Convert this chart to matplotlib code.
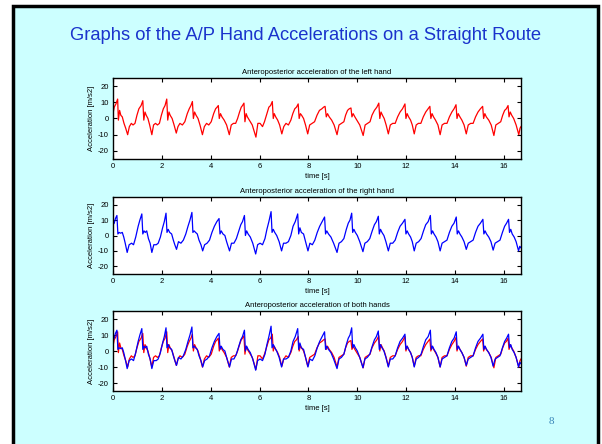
import numpy as np
import matplotlib
matplotlib.use("Agg")
import matplotlib.pyplot as plt
from matplotlib.patches import Rectangle

# left hand (red): time [s], acceleration [m/s2]
left_t = [0, 0.05, 0.12, 0.19, 0.22, 0.27, 0.32, 0.38, 0.45, 0.52, 0.6, 0.67, 0.75, 0.82, 0.9, 0.98,
          1.06, 1.15, 1.22, 1.26, 1.31, 1.36, 1.43, 1.5, 1.59, 1.66, 1.74, 1.82, 1.9, 1.98,
          2.06, 2.13, 2.2, 2.24, 2.29, 2.34, 2.42, 2.5, 2.59, 2.66, 2.74, 2.84, 2.94,
          3.04, 3.12, 3.19, 3.25, 3.29, 3.34, 3.4, 3.48, 3.56, 3.66, 3.74, 3.83, 3.92,
          4.02, 4.12, 4.2, 4.26, 4.31, 4.35, 4.4, 4.46, 4.55, 4.65, 4.76, 4.84, 4.93,
          5.02, 5.1, 5.18, 5.25, 5.3, 5.36, 5.4, 5.45, 5.5, 5.58, 5.7, 5.85, 5.93,
          6.02, 6.12, 6.2, 6.3, 6.38, 6.45, 6.52, 6.56, 6.6, 6.66, 6.74, 6.82, 6.91, 6.99,
          7.08, 7.18, 7.28, 7.36, 7.44, 7.51, 7.58, 7.62, 7.67, 7.72, 7.8, 7.88, 7.97,
          8.05, 8.15, 8.25, 8.35, 8.45, 8.55, 8.62, 8.68, 8.73, 8.78, 8.85, 8.95,
          9.05, 9.17, 9.25, 9.35, 9.45, 9.52, 9.6, 9.67, 9.74, 9.78, 9.83, 9.9, 9.98,
          10.1, 10.24, 10.32, 10.42, 10.52, 10.6, 10.7, 10.8, 10.88, 10.92, 10.97,
          11.03, 11.1, 11.18, 11.27, 11.35, 11.45, 11.55, 11.65, 11.75, 11.85, 11.95, 11.99,
          12.04, 12.1, 12.18, 12.25, 12.33, 12.41, 12.5, 12.6, 12.7, 12.8, 12.9, 12.97,
          13.01, 13.06, 13.12, 13.2, 13.3, 13.39, 13.47, 13.57, 13.67, 13.77, 13.87, 13.96,
          14.04, 14.08, 14.13, 14.2, 14.28, 14.37, 14.46, 14.54, 14.64, 14.74, 14.84, 14.94,
          15.04, 15.13, 15.17, 15.22, 15.28, 15.38, 15.48, 15.59, 15.67, 15.77, 15.87, 15.95,
          16.03, 16.1, 16.17, 16.21, 16.26, 16.32, 16.4, 16.5, 16.61, 16.66, 16.7]
left_a = [3, 7, 9, 12, -1, 5, 2, 1, -3, -6, -10, -5, -3, -4, -3, 2,
          6, 8, 11, -1, 4, 2, 0, -4, -10, -4, -3, -4, -3, 2,
          6, 8, 12, -1, 4, 2, 0, -4, -9, -5, -3, -4, -2,
          3, 6, 8, 10.5, 0, 4, 2, 0, -4, -10, -5, -3, -4,
          -2, 3, 6, 7, 8, 0, 3, 1, -1, -4, -10, -4, -3,
          -3, 0, 4, 7, 8, 9.5, -2, 3, 1, -1, -4, -11.5, -3,
          -3, -5, -2, 3, 7, 8, 10.5, 0, 3, 1, -1, -4, -9.5, -5,
          -3, -4, -1, 3, 6, 7, 9, 0, 3, 2, 0, -4, -9.5,
          -4, -3, -2, 2, 5, 6, 7, 7.5, 1, 3, 1, -1,
          -4, -10, -4, -3, -2, 2, 5, 6, 6.5, 1, 3, 1, -1,
          -4, -10.5, -4, -3, -2, 2, 5, 7, 9.5, 0, 4,
          2, 0, -4, -9.5, -4, -3, -3, 1, 4, 6, 9, 0,
          3, 1, -1, -4, -9.5, -4, -3, -3, 1, 4, 6, 7.5,
          0, 3, 1, -1, -4, -10, -4, -3, -3, 1, 4, 6,
          8.5, 0, 3, 1, -1, -4, -9.5, -4, -3, -3, 1, 4,
          6, 7.5, 0, 3, 1, -1, -4, -10.5, -4, -3, -2, 2,
          5, 6, 8, 1, 4, 2, 0, -4, -10, -6, -5]

# right hand (blue)
right_t = [0, 0.05, 0.1, 0.16, 0.2, 0.25, 0.31, 0.38, 0.44, 0.5, 0.58, 0.66, 0.76, 0.84, 0.93,
           1.03, 1.1, 1.18, 1.22, 1.27, 1.32, 1.38, 1.45, 1.52, 1.59, 1.67, 1.77, 1.85, 1.94,
           2.03, 2.1, 2.17, 2.21, 2.26, 2.32, 2.4, 2.47, 2.53, 2.6, 2.68, 2.78, 2.88, 2.98,
           3.07, 3.15, 3.23, 3.27, 3.32, 3.38, 3.45, 3.52, 3.6, 3.67, 3.75, 3.85, 3.95,
           4.05, 4.15, 4.25, 4.34, 4.38, 4.43, 4.5, 4.58, 4.65, 4.77, 4.85, 4.95,
           5.05, 5.15, 5.23, 5.3, 5.38, 5.42, 5.47, 5.53, 5.62, 5.72, 5.84, 5.92,
           6.02, 6.12, 6.22, 6.3, 6.38, 6.47, 6.51, 6.56, 6.62, 6.7, 6.8, 6.9, 6.98,
           7.08, 7.18, 7.28, 7.37, 7.46, 7.56, 7.6, 7.65, 7.71, 7.8, 7.88, 7.98,
           8.06, 8.16, 8.26, 8.36, 8.46, 8.56, 8.66, 8.7, 8.75, 8.82, 8.92,
           9.03, 9.17, 9.25, 9.35, 9.45, 9.55, 9.63, 9.7, 9.77, 9.81, 9.86, 9.92,
           10.0, 10.1, 10.23, 10.31, 10.41, 10.51, 10.61, 10.7, 10.78, 10.86, 10.9, 10.95,
           11.01, 11.09, 11.17, 11.27, 11.35, 11.45, 11.55, 11.65, 11.75, 11.85, 11.95, 11.99,
           12.04, 12.1, 12.18, 12.25, 12.33, 12.41, 12.51, 12.61, 12.71, 12.8, 12.9, 12.99,
           13.03, 13.08, 13.14, 13.22, 13.3, 13.39, 13.47, 13.57, 13.67, 13.77, 13.87, 13.96,
           14.05, 14.09, 14.14, 14.2, 14.28, 14.37, 14.46, 14.54, 14.64, 14.74, 14.84, 14.94,
           15.04, 15.14, 15.18, 15.23, 15.29, 15.38, 15.47, 15.56, 15.64, 15.74, 15.84, 15.94,
           16.03, 16.11, 16.19, 16.23, 16.28, 16.34, 16.42, 16.5, 16.6, 16.65, 16.7]
right_a = [7, 8, 11, 13, 1, 2, 1.5, 2, -1, -5, -11, -6, -5, -6, -1,
           6, 10, 14, 1, 3, 2, 3, -2, -5, -11, -6, -6, -5, -1,
           5, 9, 14.5, 2, 4, 2, 1, -3, -6, -9, -4, -5, -3, 1,
           6, 10, 15, 2, 3, 2, 1, -3, -6, -10, -6, -5, -3,
           2, 6, 9, 11, 1, 3, 1, 0, -4, -10, -5, -5,
           -2, 3, 7, 9, 13, 0, 3, 1, -1, -5, -12, -6,
           -5, -6, -2, 4, 9, 15.5, 2, 4, 2, 0, -4, -10, -5,
           -5, -4, 0, 6, 9, 14, 1, 5, 2, 1, -4, -10,
           -5, -6, -3, 2, 6, 9, 12, 1, 3, 1, -1,
           -5, -11, -5, -4, -2, 4, 8, 10, 14.5, 2, 4, 2,
           0, -4, -10.5, -5, -4, -2, 3, 7, 9, 12.5, 1, 4,
           2, 0, -4, -10, -5, -5, -3, 2, 6, 8, 10.5, 1,
           3, 1, -1, -4, -10, -5, -4, -2, 3, 7, 9, 13,
           1, 3, 1, -1, -4, -10, -5, -4, -3, 2, 6, 8,
           12, 1, 3, 1, -1, -4, -9, -5, -4, -3, 2, 6,
           8, 10.5, 1, 3, 1, -1, -4, -9.5, -5, -4, -3, 2,
           6, 8, 10.5, 2, 4, 1, -1, -4, -10, -7, -8]

panel_titles = ["Anteroposterior acceleration of the left hand",
                "Anteroposterior acceleration of the right hand",
                "Anteroposterior acceleration of both hands"]
x_ticks = [0, 2, 4, 6, 8, 10, 12, 14, 16]
y_ticks = [-20, -10, 0, 10, 20]

plt.rcParams['font.family'] = ['Liberation Sans', 'DejaVu Sans']
plt.rcParams['axes.unicode_minus'] = False

fig = plt.figure(figsize=(6.02, 4.44), dpi=100)
fig.patch.set_facecolor('white')

# slide background and frame
fig.patches.append(Rectangle((13 / 602, -0.05), 585 / 602, 1 - 6 / 444 + 0.05,
                             transform=fig.transFigure, facecolor='#ccffff',
                             edgecolor='black', linewidth=2.5, zorder=-10))

fig.text(0.507, 1 - 35 / 444, "Graphs of the A/P Hand Accelerations on a Straight Route",
         ha='center', va='center', fontsize=13.2, color='#1a33cc')
fig.text(551 / 602, 1 - 421 / 444, "8", ha='center', va='center', fontsize=8,
         color='#3a86b8', family='Liberation Serif')

left = 113 / 602
width = (521 - 113) / 602
boxes = [(78, 159), (197, 274), (311, 391)]
series = [[(left_t, left_a, 'red')],
          [(right_t, right_a, 'blue')],
          [(left_t, left_a, 'red'), (right_t, right_a, 'blue')]]

for (top, bottom), title, lines in zip(boxes, panel_titles, series):
    ax = fig.add_axes([left, 1 - bottom / 444, width, (bottom - top) / 444])
    ax.set_facecolor('white')
    for t, a, c in lines:
        ax.plot(t, a, color=c, linewidth=0.9)
    ax.set_xlim(0, 16.7)
    ax.set_ylim(-25, 25)
    ax.set_xticks(x_ticks)
    ax.set_yticks(y_ticks)
    ax.tick_params(direction='in', top=True, right=True, length=3, width=0.8,
                   labelsize=5.5, pad=3)
    for s in ax.spines.values():
        s.set_linewidth(1)
    ax.set_title(title, fontsize=5.5, pad=3)
    ax.set_xlabel("time [s]", fontsize=5.5, labelpad=2)
    ax.set_ylabel("Acceleration [m/s2]", fontsize=5.5, labelpad=2)

fig.savefig("out.png", dpi=100, facecolor=fig.get_facecolor())
